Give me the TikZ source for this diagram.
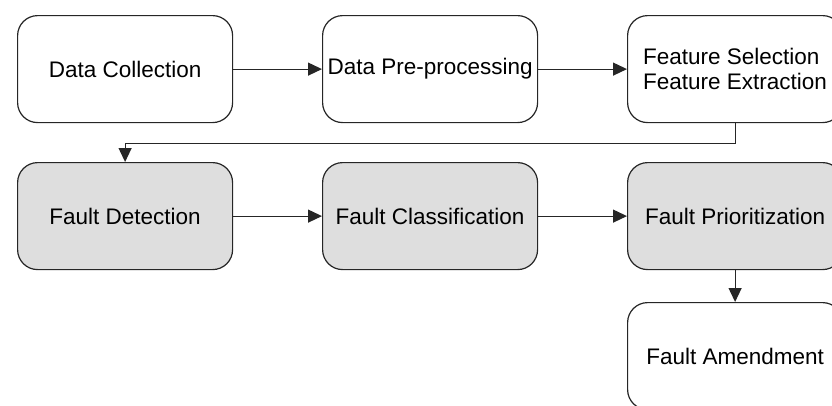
\documentclass[tikz,border=0pt]{standalone}
\usepackage{fontspec}
\setmainfont{Liberation Sans}
\usetikzlibrary{arrows.meta}
\begin{document}
\begin{tikzpicture}[x=1pt,y=-1pt,
  box/.style={draw=black!85, line width=1.2pt, rounded corners=20pt,
    minimum width=215pt, minimum height=107pt, inner sep=0pt,
    font=\fontsize{22.5}{25}\selectfont, text=black, anchor=north west, fill=white},
  gbox/.style={box, fill=black!13},
  arr/.style={draw=black!85, line width=1.2pt, -{Triangle[length=14pt,width=13pt]}}
]
\useasboundingbox (0,0) rectangle (832,405);
\clip (0,0) rectangle (832,405);
\node[box] (dc) at (17,15) {Data Collection};
\node[box] (dp) at (322,15) {Data Pre-processing};
\node[box, align=left] (fs) at (627,15) {Feature Selection\\Feature Extraction};
\node[gbox] (fd) at (17,162) {Fault Detection};
\node[gbox] (fc) at (322,162) {Fault Classification};
\node[gbox] (fp) at (627,162) {Fault Prioritization};
\node[box] (fa) at (627,302) {Fault Amendment};
\draw[arr] (dc) -- (dp);
\draw[arr] (dp) -- (fs);
\draw[arr] (fs.south) -- ++(0,20) -| (fd.north);
\draw[arr] (fd) -- (fc);
\draw[arr] (fc) -- (fp);
\draw[arr] (fp) -- (fa);
\end{tikzpicture}
\end{document}
